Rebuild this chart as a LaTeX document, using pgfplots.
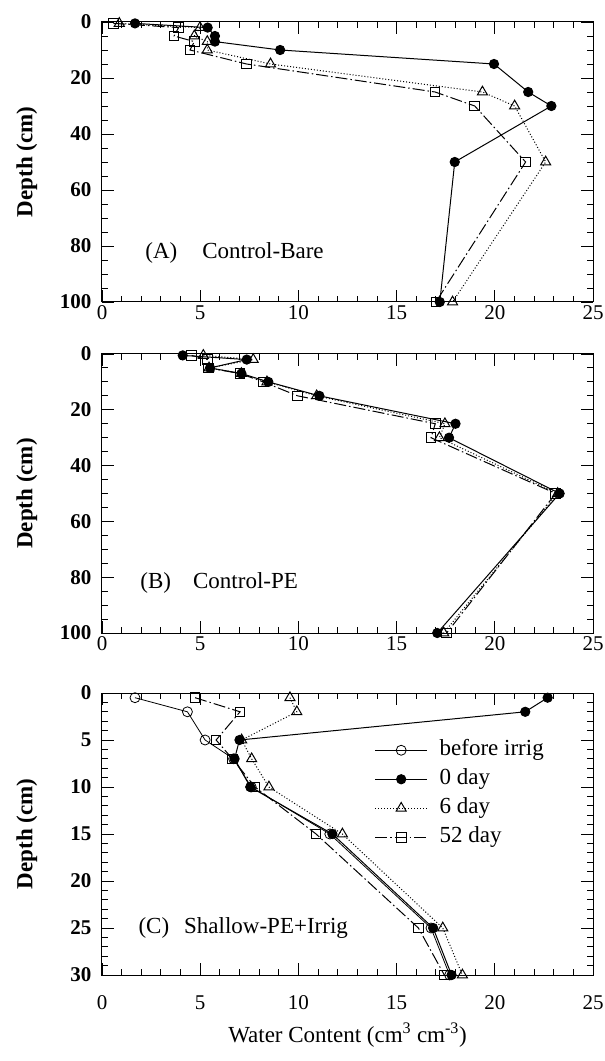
\documentclass[border=0pt]{standalone}
\usepackage{fontspec}
\setmainfont{Liberation Serif}
\usepackage{pgfplots}
\pgfplotsset{compat=1.18}

\pgfplotsset{
 myax/.style={
  scale only axis, width=491pt,
  xmin=0,xmax=25, xtick={0,5,...,25}, minor x tick num=4,
  y dir=reverse, ymin=0,
  tick align=inside,
  major tick length=12pt, minor tick length=6pt,
  every tick/.style={black, line width=0.9pt},
  axis line style={line width=1pt},
  /pgf/number format/assume math mode=true,
  xticklabel style={font=\fontsize{21}{22}\selectfont},
  yticklabel style={font=\fontsize{21}{22}\selectfont\bfseries, xshift=-7pt},
  ylabel={Depth (cm)},
  ylabel style={font=\fontsize{23}{24}\selectfont\bfseries, at={(axis description cs:-0.153,0.5)}, anchor=center},
  clip=false,
 },
 day0/.style={black, line width=1pt, mark=*, mark size=4.6pt, mark options={solid, fill=black}},
 day6/.style={black, line width=1pt, dotted, mark=triangle, mark size=5.8pt, mark options={solid, fill=white}},
 day52/.style={black, line width=1pt, dash pattern=on 12pt off 3pt on 1.5pt off 3pt, mark=square, mark size=4.8pt, mark options={solid, fill=white}},
 before/.style={black, line width=0.8pt, mark=o, mark size=5pt, mark options={solid, fill=white}},
}

\begin{document}
\begin{tikzpicture}
\useasboundingbox (0,0) rectangle (605pt,1061pt);

% Panel A
\begin{axis}[myax, at={(102pt,759pt)}, anchor=south west, height=280pt,
  ymax=100, ytick={0,20,...,100}, minor y tick num=3]
\addplot[day0] coordinates {(1.68,0.5) (5.38,2) (5.75,5) (5.75,7) (9.07,10) (19.96,15) (21.7,25) (22.88,30) (17.96,50) (17.2,100)};
\addplot[day6] coordinates {(0.88,0.5) (4.99,2) (4.7,5) (5.36,7) (5.36,10) (8.58,15) (19.37,25) (21.01,30) (22.59,50) (17.85,100)};
\addplot[day52] coordinates {(0.58,0.5) (3.9,2) (3.67,5) (4.7,7) (4.48,10) (7.36,15) (16.96,25) (18.98,30) (21.57,50) (17.0,100)};
\node[anchor=west, font=\fontsize{23}{24}\selectfont, inner sep=0pt] at (axis cs:2.2,82.5) {(A)\hspace{25pt}Control-Bare};
\end{axis}

% Panel B
\begin{axis}[myax, at={(102pt,428pt)}, anchor=south west, height=279pt,
  ymax=100, ytick={0,20,...,100}, minor y tick num=3]
\addplot[day0] coordinates {(4.11,0.5) (7.37,2) (5.5,5) (7.1,7) (8.47,10) (11.07,15) (18.0,25) (17.67,30) (23.3,50) (17.07,100)};
\addplot[day6] coordinates {(5.16,0.5) (7.7,2) (5.45,5) (7.1,7) (8.4,10) (10.93,15) (17.46,25) (17.18,30) (23.2,50) (17.4,100)};
\addplot[day52] coordinates {(4.57,0.5) (5.36,2) (5.41,5) (7.03,7) (8.21,10) (9.96,15) (16.97,25) (16.75,30) (23.1,50) (17.55,100)};
\node[anchor=west, font=\fontsize{23}{24}\selectfont, inner sep=0pt] at (axis cs:1.95,82.1) {(B)\hspace{22pt}Control-PE};
\end{axis}

% Panel C
\begin{axis}[myax, at={(102pt,86pt)}, anchor=south west, height=282pt,
  ymax=30, ytick={0,5,...,30}, minor y tick num=4,
  xticklabel style={yshift=-17pt},
  xlabel={Water Content (cm\textsuperscript{3} cm\textsuperscript{-3})},
  xlabel style={font=\fontsize{23}{24}\selectfont, yshift=-6pt},
  legend style={at={(axis description cs:0.555,0.842)}, anchor=north west, draw=none, fill=none,
    font=\fontsize{23}{24}\selectfont, row sep=4pt, inner sep=0pt,
    nodes={inner sep=3pt, text height=15pt, text depth=4pt},
    /tikz/every odd column/.append style={column sep=9pt}},
  legend cell align=left,
  legend image code/.code={\draw[mark repeat=2,mark phase=2,#1] plot coordinates {(0pt,0pt) (26pt,0pt) (52pt,0pt)};}]
\addplot[before] coordinates {(1.68,0.5) (4.35,2) (5.25,5) (6.7,7) (7.6,10) (11.6,15) (16.75,25) (17.7,30)};
\addplot[day0] coordinates {(22.69,0.5) (21.55,2) (7.0,5) (6.75,7) (7.55,10) (11.73,15) (16.86,25) (17.8,30)};
\addplot[day6] coordinates {(9.57,0.5) (9.92,2) (7.11,5) (7.62,7) (8.5,10) (12.24,15) (17.35,25) (18.35,30)};
\addplot[day52] coordinates {(4.74,0.5) (7.03,2) (5.81,5) (6.64,7) (7.79,10) (10.9,15) (16.11,25) (17.43,30)};
\legend{before irrig, 0 day, 6 day, 52 day}
\node[anchor=west, font=\fontsize{23}{24}\selectfont, inner sep=0pt] at (axis cs:1.85,25) {(C)\hspace{15pt}Shallow-PE+Irrig};
\end{axis}
\end{tikzpicture}
\end{document}
